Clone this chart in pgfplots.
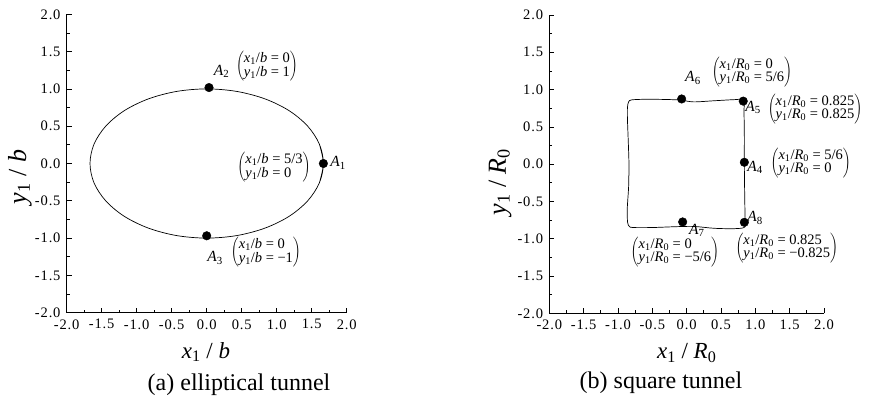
\documentclass[border=0pt]{standalone}
\usepackage{fontspec}
\setmainfont{Liberation Serif}
\newfontfamily\tickfont[LetterSpace=6]{Liberation Serif}
\usepackage{pgfplots}
\pgfplotsset{compat=1.18}
\pgfplotsset{myax/.style={
  scale only axis, anchor=south west,
  xmin=-2,xmax=2,ymin=-2,ymax=2,
  axis lines*=left, axis line style={-, line width=0.7pt, black},
  tick align=inside, major tick length=5pt, minor tick length=3pt,
  xtick={-2,-1.5,-1,-0.5,0,0.5,1,1.5,2},
  ytick={-2,-1.5,-1,-0.5,0,0.5,1,1.5,2},
  xticklabels={-2.0,-1.5,-1.0,-0.5,0.0,0.5,1.0,1.5,2.0},
  yticklabels={-2.0,-1.5,-1.0,-0.5,0.0,0.5,1.0,1.5,2.0},
  minor tick num=1,
  every tick/.style={black, line width=0.7pt},
  tick label style={font=\fontsize{14.5}{15}\tickfont, inner sep=0.5pt},
  xticklabel style={yshift=-6pt},
  yticklabel style={xshift=-5.5pt},
  clip=false,
}}
\newcommand{\ann}[2]{\fontsize{14.5}{12.5}\selectfont$\left(\begin{tabular}{@{}l@{}}#1\\#2\end{tabular}\right)$}
\newcommand{\Ab}[1]{\fontsize{15.5}{15}\selectfont\textit{A}\textsubscript{#1}}
\begin{document}
\begin{tikzpicture}
\path (0,0) rectangle (870pt,401pt);
% ---------- (a) ----------
\begin{axis}[myax, at={(66.7pt,88.3pt)}, width=280pt, height=298.4pt]
\addplot[black, line width=0.7pt, smooth, tension=0.55] coordinates {
(1.610,-0.2588) (1.667,0) (1.610,0.2588) (1.443,0.5) (1.179,0.7071) (0.833,0.8660) (0.431,0.9659)
(0,1) (-0.431,0.9659) (-0.833,0.8660) (-1.179,0.7071) (-1.443,0.5) (-1.610,0.2588)
(-1.667,0) (-1.610,-0.2588) (-1.443,-0.5) (-1.179,-0.7071) (-0.833,-0.8660) (-0.431,-0.9659)
(0,-1) (0.431,-0.9659) (0.833,-0.8660) (1.179,-0.7071) (1.443,-0.5) (1.610,-0.2588) (1.667,0) (1.610,0.2588)
};
\addplot[only marks, mark=*, mark size=4.3pt, black] coordinates {(1.667,0) (0.033,1.018) (0,-0.969)};
\node at (axis cs:0.214,1.23) {\Ab{2}};
\node at (axis cs:0.861,1.307) {\ann{\textit{x}\textsubscript{1}/\textit{b} = 0}{\textit{y}\textsubscript{1}/\textit{b} = 1}};
\node at (axis cs:1.876,0.007) {\Ab{1}};
\node at (axis cs:0.961,-0.047) {\ann{\textit{x}\textsubscript{1}/\textit{b} = 5/3}{\textit{y}\textsubscript{1}/\textit{b} = 0}};
\node at (axis cs:0.119,-1.267) {\Ab{3}};
\node at (axis cs:0.846,-1.186) {\ann{\textit{x}\textsubscript{1}/\textit{b} = 0}{\textit{y}\textsubscript{1}/\textit{b} = −1}};
\end{axis}
\node[rotate=90, font=\fontsize{26}{28}\selectfont] at (20pt,224pt) {\textit{y}\textsubscript{1} / \textit{b}};
\node[font=\fontsize{23}{25}\selectfont] at (206pt,49pt) {\textit{x}\textsubscript{1} / \textit{b}};
\node[font=\fontsize{24}{26}\selectfont] at (239pt,16pt) {(a) elliptical tunnel};
% ---------- (b) ----------
\begin{axis}[myax, at={(549.3pt,87.7pt)}, width=274.7pt, height=298.3pt]
\addplot[black, line width=0.7pt, smooth, tension=0.5] coordinates {
(-0.845,-0.3) (-0.84,0) (-0.85,0.3) (-0.862,0.6) (-0.862,0.76) (-0.845,0.835) (-0.80,0.862) (-0.6,0.87) (-0.35,0.868)
(-0.1,0.86) (0.1,0.835) (0.4,0.85) (0.7,0.865) (0.83,0.86) (0.835,0.7) (0.84,0.4) (0.84,0.0)
(0.845,-0.4) (0.85,-0.7) (0.85,-0.84) (0.7,-0.865) (0.4,-0.86) (0.1,-0.835) (-0.2,-0.84)
(-0.5,-0.85) (-0.78,-0.85) (-0.835,-0.835) (-0.86,-0.78) (-0.865,-0.6) (-0.845,-0.3) (-0.84,0) (-0.85,0.3)
};
\addplot[only marks, mark=*, mark size=4.3pt, black] coordinates {(-0.073,0.874) (0.824,0.845) (0.84,0.025) (0.84,-0.78) (-0.058,-0.775)};
\node at (axis cs:0.092,1.155) {\Ab{6}};
\node at (axis cs:0.951,1.236) {\ann{\textit{x}\textsubscript{1}/\textit{R}\textsubscript{0} = 0}{\textit{y}\textsubscript{1}/\textit{R}\textsubscript{0} = 5/6}};
\node at (axis cs:0.966,0.766) {\Ab{5}};
\node at (axis cs:1.869,0.740) {\ann{\textit{x}\textsubscript{1}/\textit{R}\textsubscript{0} = 0.825}{\textit{y}\textsubscript{1}/\textit{R}\textsubscript{0} = 0.825}};
\node at (axis cs:0.995,-0.038) {\Ab{4}};
\node at (axis cs:1.807,0.016) {\ann{\textit{x}\textsubscript{1}/\textit{R}\textsubscript{0} = 5/6}{\textit{y}\textsubscript{1}/\textit{R}\textsubscript{0} = 0}};
\node at (axis cs:0.995,-0.722) {\Ab{8}};
\node at (axis cs:1.458,-1.124) {\ann{\textit{x}\textsubscript{1}/\textit{R}\textsubscript{0} = 0.825}{\textit{y}\textsubscript{1}/\textit{R}\textsubscript{0} = −0.825}};
\node at (axis cs:0.149,-0.883) {\Ab{7}};
\node at (axis cs:-0.171,-1.178) {\ann{\textit{x}\textsubscript{1}/\textit{R}\textsubscript{0} = 0}{\textit{y}\textsubscript{1}/\textit{R}\textsubscript{0} = −5/6}};
\end{axis}
\node[rotate=90, font=\fontsize{26}{28}\selectfont] at (500pt,219pt) {\textit{y}\textsubscript{1} / \textit{R}\textsubscript{0}};
\node[font=\fontsize{23}{25}\selectfont] at (686.7pt,48pt) {\textit{x}\textsubscript{1} / \textit{R}\textsubscript{0}};
\node[font=\fontsize{24}{26}\selectfont] at (661pt,18pt) {(b) square tunnel};
\end{tikzpicture}
\end{document}
